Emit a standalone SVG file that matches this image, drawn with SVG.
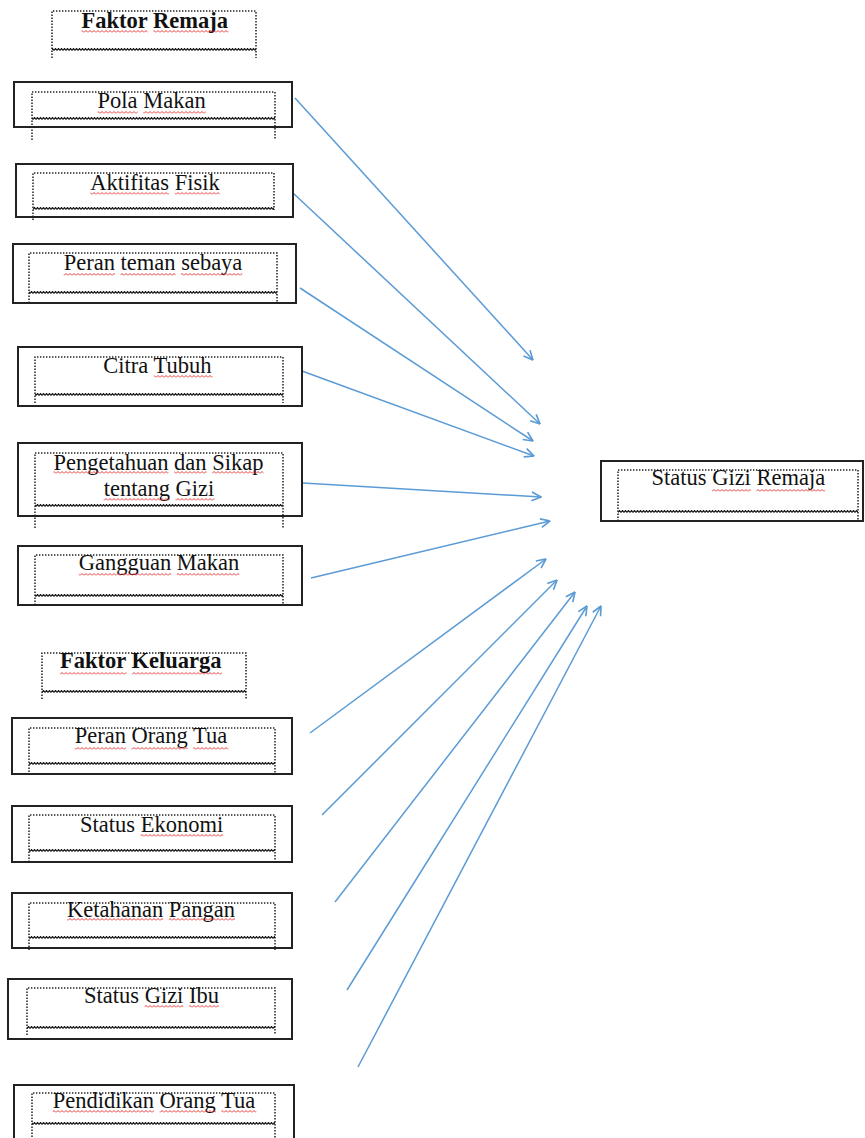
<svg xmlns="http://www.w3.org/2000/svg" width="865" height="1138" viewBox="0 0 865 1138">
<style>
.box{fill:#fff;stroke:#222;stroke-width:2}
.dot{fill:none;stroke:#222;stroke-width:1.5;stroke-dasharray:1.4 1.6}
.t{font-family:"Liberation Serif","Times New Roman",serif;font-size:22.5px;fill:#111}
.b{font-weight:bold}
.rw{fill:url(#rw)}
.bw{fill:url(#bw)}
.c{fill:none;stroke:#5b9bd5;stroke-width:1.5}
</style>
<defs>
<pattern id="rw" patternUnits="userSpaceOnUse" width="4" height="3"><path d="M0 2.5 L2 0.5 L4 2.5" fill="none" stroke="#e52222" stroke-width="0.9"/></pattern>
<pattern id="bw" patternUnits="userSpaceOnUse" width="3" height="3"><path d="M0 2.4 L1.5 0.6 L3 2.4" fill="none" stroke="#111" stroke-width="1.3"/></pattern>
<marker id="ah" viewBox="0 0 10 10" refX="9.5" refY="5" markerWidth="11" markerHeight="11" markerUnits="userSpaceOnUse" orient="auto"><path d="M1 1 L9.5 5 L1 9" fill="none" stroke="#5b9bd5" stroke-width="1.5"/></marker>
</defs>

<g id="connectors">
<line class="c" x1="295" y1="98" x2="533" y2="360" marker-end="url(#ah)"/>
<line class="c" x1="293" y1="193" x2="540" y2="424" marker-end="url(#ah)"/>
<line class="c" x1="300" y1="288" x2="533" y2="441" marker-end="url(#ah)"/>
<line class="c" x1="302" y1="371" x2="534" y2="456" marker-end="url(#ah)"/>
<line class="c" x1="303" y1="483" x2="541" y2="497" marker-end="url(#ah)"/>
<line class="c" x1="311" y1="578" x2="550" y2="521" marker-end="url(#ah)"/>
<line class="c" x1="310" y1="733" x2="546" y2="559" marker-end="url(#ah)"/>
<line class="c" x1="322" y1="815" x2="557" y2="580" marker-end="url(#ah)"/>
<line class="c" x1="335" y1="902" x2="575" y2="592" marker-end="url(#ah)"/>
<line class="c" x1="347" y1="990" x2="587" y2="606" marker-end="url(#ah)"/>
<line class="c" x1="358" y1="1067" x2="601" y2="606" marker-end="url(#ah)"/>
</g>

<g id="faktor-remaja">
<path class="dot" d="M52 58 V11 H256 V58"/>
<rect class="bw" x="52" y="48" width="204" height="3"/>
<text class="t b" x="81.6" y="28">Faktor Remaja</text>
<rect class="rw" x="81.6" y="30" width="66" height="3"/>
<rect class="rw" x="153.4" y="30" width="75" height="3"/>
</g>

<g id="pola-makan">
<rect class="box" x="14" y="82" width="278" height="45"/>
<path class="dot" d="M32 140 V92 H275 V140"/>
<rect class="bw" x="32" y="117" width="243" height="3"/>
<text class="t" x="97.6" y="108">Pola Makan</text>
<rect class="rw" x="97.6" y="111" width="40" height="3"/>
<rect class="rw" x="143.2" y="111" width="62.5" height="3"/>
</g>

<g id="aktifitas-fisik">
<rect class="box" x="16" y="164" width="277" height="53"/>
<path class="dot" d="M33 220 V173 H274 V210"/>
<rect class="bw" x="33" y="207" width="241" height="3"/>
<text class="t" x="90.3" y="190">Aktifitas Fisik</text>
<rect class="rw" x="90.3" y="192" width="78.8" height="3"/>
<rect class="rw" x="174.7" y="192" width="45" height="3"/>
</g>

<g id="peran-teman-sebaya">
<rect class="box" x="13" y="244" width="283" height="59"/>
<path class="dot" d="M29 303 V253 H277 V303"/>
<rect class="bw" x="29" y="291" width="248" height="3"/>
<text class="t" x="63.7" y="270">Peran teman sebaya</text>
<rect class="rw" x="63.7" y="273" width="51.2" height="3"/>
<rect class="rw" x="120.5" y="273" width="55" height="3"/>
<rect class="rw" x="181.1" y="273" width="61.2" height="3"/>
</g>

<g id="citra-tubuh">
<rect class="box" x="18" y="347" width="284" height="59"/>
<path class="dot" d="M35 403 V357 H283 V403"/>
<rect class="bw" x="35" y="393" width="248" height="3"/>
<text class="t" x="103.3" y="373">Citra Tubuh</text>
<rect class="rw" x="153.9" y="375" width="58.7" height="3"/>
</g>

<g id="pengetahuan-sikap">
<rect class="box" x="18" y="443" width="284" height="73"/>
<path class="dot" d="M35 528 V453 H283 V528"/>
<rect class="bw" x="35" y="504" width="248" height="3"/>
<text class="t" x="53.5" y="470">Pengetahuan dan Sikap</text>
<text class="t" x="103.7" y="496">tentang Gizi</text>
<rect class="rw" x="53.5" y="471" width="115" height="3"/>
<rect class="rw" x="174.1" y="471" width="32.5" height="3"/>
<rect class="rw" x="212.2" y="471" width="51.3" height="3"/>
<rect class="rw" x="103.7" y="498" width="66.2" height="3"/>
<rect class="rw" x="175.5" y="498" width="38.7" height="3"/>
</g>

<g id="gangguan-makan">
<rect class="box" x="18" y="546" width="284" height="59"/>
<path class="dot" d="M35 605 V555 H283 V605"/>
<rect class="bw" x="35" y="594" width="248" height="3"/>
<text class="t" x="78.7" y="570">Gangguan Makan</text>
<rect class="rw" x="78.7" y="573" width="92.5" height="3"/>
<rect class="rw" x="176.8" y="573" width="62.5" height="3"/>
</g>

<g id="status-gizi-remaja">
<rect class="box" x="601" y="461" width="262" height="60"/>
<path class="dot" d="M618 521 V470 H858 V521"/>
<rect class="bw" x="618" y="510" width="240" height="3"/>
<text class="t" x="651.5" y="485">Status Gizi Remaja</text>
<rect class="rw" x="712.1" y="489" width="38.7" height="3"/>
<rect class="rw" x="756.4" y="489" width="68.7" height="3"/>
</g>

<g id="faktor-keluarga">
<path class="dot" d="M42 699 V653 H246 V699"/>
<rect class="bw" x="42" y="690" width="204" height="3"/>
<text class="t b" x="60.1" y="668">Faktor Keluarga</text>
<rect class="rw" x="60.1" y="672" width="66.2" height="3"/>
<rect class="rw" x="131.9" y="672" width="90" height="3"/>
</g>

<g id="peran-orang-tua">
<rect class="box" x="12" y="718" width="280" height="56"/>
<path class="dot" d="M29 775 V728 H275 V775"/>
<rect class="bw" x="29" y="762" width="246" height="3"/>
<text class="t" x="74.7" y="743">Peran Orang Tua</text>
<rect class="rw" x="74.7" y="747" width="51.2" height="3"/>
<rect class="rw" x="131.5" y="747" width="56.2" height="3"/>
<rect class="rw" x="193.3" y="747" width="35" height="3"/>
</g>

<g id="status-ekonomi">
<rect class="box" x="12" y="806" width="280" height="56"/>
<path class="dot" d="M29 862 V815 H275 V862"/>
<rect class="bw" x="29" y="849" width="246" height="3"/>
<text class="t" x="80" y="832">Status Ekonomi</text>
<rect class="rw" x="140.6" y="834" width="82.5" height="3"/>
</g>

<g id="ketahanan-pangan">
<rect class="box" x="12" y="893" width="280" height="55"/>
<path class="dot" d="M29 950 V903 H275 V950"/>
<rect class="bw" x="29" y="936" width="246" height="3"/>
<text class="t" x="67" y="917">Ketahanan Pangan</text>
<rect class="rw" x="67" y="918" width="96.2" height="3"/>
<rect class="rw" x="168.8" y="918" width="66.2" height="3"/>
</g>

<g id="status-gizi-ibu">
<rect class="box" x="8" y="979" width="284" height="60"/>
<path class="dot" d="M27 1035 V988 H275 V1035"/>
<rect class="bw" x="27" y="1026" width="248" height="3"/>
<text class="t" x="84" y="1003">Status Gizi Ibu</text>
<rect class="rw" x="144.6" y="1005" width="38.7" height="3"/>
<rect class="rw" x="188.9" y="1005" width="30" height="3"/>
</g>

<g id="pendidikan-orang-tua">
<rect class="box" x="14" y="1085" width="280" height="60"/>
<path class="dot" d="M32 1140 V1093 H275 V1140"/>
<rect class="bw" x="32" y="1122" width="243" height="3"/>
<text class="t" x="52.7" y="1108">Pendidikan Orang Tua</text>
<rect class="rw" x="52.7" y="1110" width="101.3" height="3"/>
<rect class="rw" x="159.6" y="1110" width="56.2" height="3"/>
<rect class="rw" x="221.4" y="1110" width="35" height="3"/>
</g>
</svg>
